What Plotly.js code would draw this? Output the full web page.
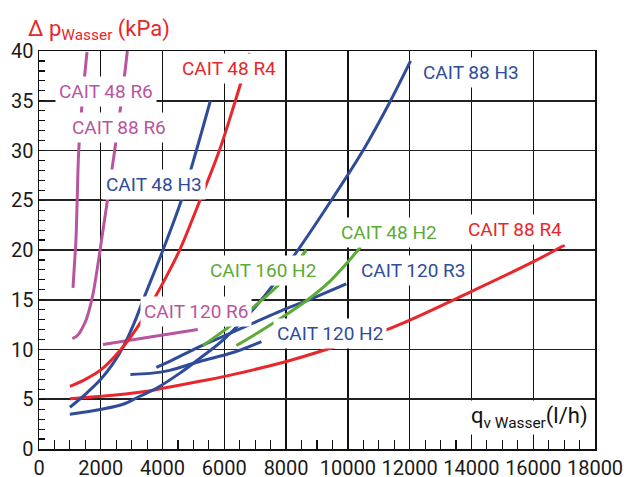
<!DOCTYPE html>
<html><head><meta charset="utf-8">
<script src="https://cdn.plot.ly/plotly-3.0.1.min.js"></script>
<style>html,body{margin:0;padding:0;background:#fff;}#chart{width:624px;height:477px;}</style>
</head><body><div id="chart"></div>
<script>
// Water flow q (l/h) and pressure drop dp (kPa) per model
const cait48R6_q  = [1100, 1155, 1195, 1235, 1285, 1400, 1555];
const cait48R6_dp = [16.2, 18.9, 20.9, 24.9, 29.9, 34.9, 39.9];
const cait88R6_q  = [1080, 1200, 1320, 1425, 1530, 1620, 1750, 1910, 2020, 2215, 2450, 2670, 2860];
const cait88R6_dp = [11.1, 11.3, 11.7, 12.3, 13.0, 13.9, 15.6, 18.6, 20.9, 25.0, 30.0, 35.0, 40.0];
const cait48H3_q  = [1000, 1500, 2000, 2400, 2750, 3100, 3400, 4014, 4609, 5094, 5548];
const cait48H3_dp = [4.2, 5.5, 7.0, 8.6, 10.4, 12.8, 15.2, 20.0, 25.0, 30.0, 35.0];
const cait48R4_q  = [1000, 1500, 2020, 2650, 3200, 3640, 4100, 4555, 5212, 5839, 6357, 6820];
const cait48R4_dp = [6.3, 7.0, 8.0, 10.0, 12.3, 14.6, 17.2, 20.0, 25.0, 30.0, 35.0, 39.8];
const cait88R4_q  = [1000, 2020, 3260, 4010, 5200, 6010, 8010, 9300, 11510, 13840, 15990, 17020];
const cait88R4_dp = [5.05, 5.3, 5.7, 6.1, 6.8, 7.3, 8.8, 10.0, 12.3, 15.6, 18.8, 20.5];
const cait88H3_q  = [1000, 2020, 2720, 3260, 3800, 4550, 5200, 6010, 7200, 8385, 9464, 10490, 11330, 12030];
const cait88H3_dp = [3.5, 4.0, 4.5, 5.3, 6.1, 7.6, 9.1, 11.1, 15.0, 20.0, 25.0, 30.0, 34.7, 39.0];
const cait120R6_q  = [2070, 3600, 5140];
const cait120R6_dp = [10.5, 11.25, 12.0];
const cait160H2_q  = [5310, 6290, 7000, 7790, 8655];
const cait160H2_dp = [10.4, 12.6, 14.4, 16.6, 20.0];
const cait48H2_q  = [6390, 7200, 8000, 8655, 9400, 10000, 10410];
const cait48H2_dp = [10.4, 11.9, 13.5, 14.9, 16.8, 18.8, 20.3];
const cait120R3_q  = [3800, 4230, 5200, 6170, 8000, 8655, 9950];
const cait120R3_dp = [8.2, 8.8, 10.3, 11.6, 14.1, 14.9, 16.6];
const cait120H2_q  = [2960, 3600, 4230, 5200, 6280, 7200];
const cait120H2_dp = [7.5, 7.6, 7.9, 8.8, 9.7, 10.8];

const xTickVals = [0, 2000, 4000, 6000, 8000, 10000, 12000, 14000, 16000, 18000];
const yTickVals = [0, 5, 10, 15, 20, 25, 30, 35, 40];

// label texts and anchor points (data coords)
const labelText = ['CAIT 48 R4', 'CAIT 48 R6', 'CAIT 88 R6', 'CAIT 48 H3', 'CAIT 88 H3', 'CAIT 48 H2',
                   'CAIT 88 R4', 'CAIT 160 H2', 'CAIT 120 R3', 'CAIT 120 R6', 'CAIT 120 H2'];
const labelQ  = [6160, 2175, 2600, 3730, 13990, 11320, 15400, 7260, 12110, 5070, 9410];
const labelDp = [38.2, 35.9, 32.3, 26.6, 37.8, 21.8, 22.1, 17.9, 17.9, 13.8, 11.6];

const RED = '#e8262b', BLUE = '#2f4c9b', MAG = '#b8559e', GREEN = '#5bab35';
const labelColor = [RED, MAG, MAG, BLUE, BLUE, GREEN, RED, GREEN, BLUE, MAG, BLUE];

function tr(x, y, c) {
  return {x: x, y: y, type: 'scatter', mode: 'lines', hoverinfo: 'skip',
          line: {color: c, width: 3, shape: 'spline', smoothing: 1}};
}
const data = [
  tr(cait88R4_q, cait88R4_dp, RED),
  tr(cait88H3_q, cait88H3_dp, BLUE),
  tr(cait120H2_q, cait120H2_dp, BLUE),
  tr(cait120R3_q, cait120R3_dp, BLUE),
  tr(cait160H2_q, cait160H2_dp, GREEN),
  tr(cait48H2_q, cait48H2_dp, GREEN),
  tr(cait120R6_q, cait120R6_dp, MAG),
  tr(cait48H3_q, cait48H3_dp, BLUE),
  tr(cait48R4_q, cait48R4_dp, RED),
  tr(cait88R6_q, cait88R6_dp, MAG),
  tr(cait48R6_q, cait48R6_dp, MAG)
];

const FONT = 'Roboto, "DejaVu Sans", sans-serif';
const annotations = labelText.map((t, i) => ({
  x: labelQ[i], y: labelDp[i], xref: 'x', yref: 'y', text: t, showarrow: false,
  font: {family: FONT, size: 19, color: labelColor[i]},
  bgcolor: '#ffffff', borderpad: 3, xanchor: 'center', yanchor: 'middle'
}));
annotations.push({
  x: 17860, y: 3.2, xref: 'x', yref: 'y', text: 'q<sub>v Wasser</sub>(l/h)', showarrow: false,
  font: {family: FONT, size: 22, color: '#111'}, bgcolor: '#ffffff', borderpad: 2,
  xanchor: 'right', yanchor: 'middle'
});

const layout = {
  width: 624, height: 477,
  margin: {l: 39, r: 29, t: 51, b: 28},
  paper_bgcolor: '#fff', plot_bgcolor: '#fff',
  showlegend: false,
  title: {text: 'Δ p<sub>Wasser</sub> (kPa)', xref: 'container', yref: 'container',
          x: 28/624, xanchor: 'left', y: 1 - 28/477, yanchor: 'middle',
          font: {family: FONT, size: 22, color: RED}},
  xaxis: {range: [0, 18000], tickvals: xTickVals, ticktext: xTickVals.map(String),
          showgrid: true, gridcolor: '#111', gridwidth: 1.3, zeroline: false,
          showline: true, linecolor: '#111', linewidth: 1.5, mirror: true,
          ticks: 'inside', ticklen: 9, tickcolor: '#111', tickwidth: 1.3,
          minor: {dtick: 500, tick0: 0, ticks: 'inside', ticklen: 9, tickcolor: '#111', tickwidth: 1.2, showgrid: false},
          tickfont: {family: FONT, size: 20, color: '#1a1a1a'}, fixedrange: true},
  yaxis: {range: [0, 40], tickvals: yTickVals, ticktext: yTickVals.map(String),
          showgrid: true, gridcolor: '#222', gridwidth: 1.6, zeroline: false,
          showline: true, linecolor: '#111', linewidth: 1.5, mirror: true,
          ticks: 'inside', ticklen: 6, tickcolor: '#111', tickwidth: 1.2,
          minor: {dtick: 1, tick0: 0, ticks: 'inside', ticklen: 6, tickcolor: '#111', tickwidth: 1.2, showgrid: false},
          tickfont: {family: FONT, size: 20, color: '#1a1a1a'}, fixedrange: true},
  annotations: annotations
};
Plotly.newPlot('chart', data, layout, {staticPlot: true, displayModeBar: false});
</script></body></html>
